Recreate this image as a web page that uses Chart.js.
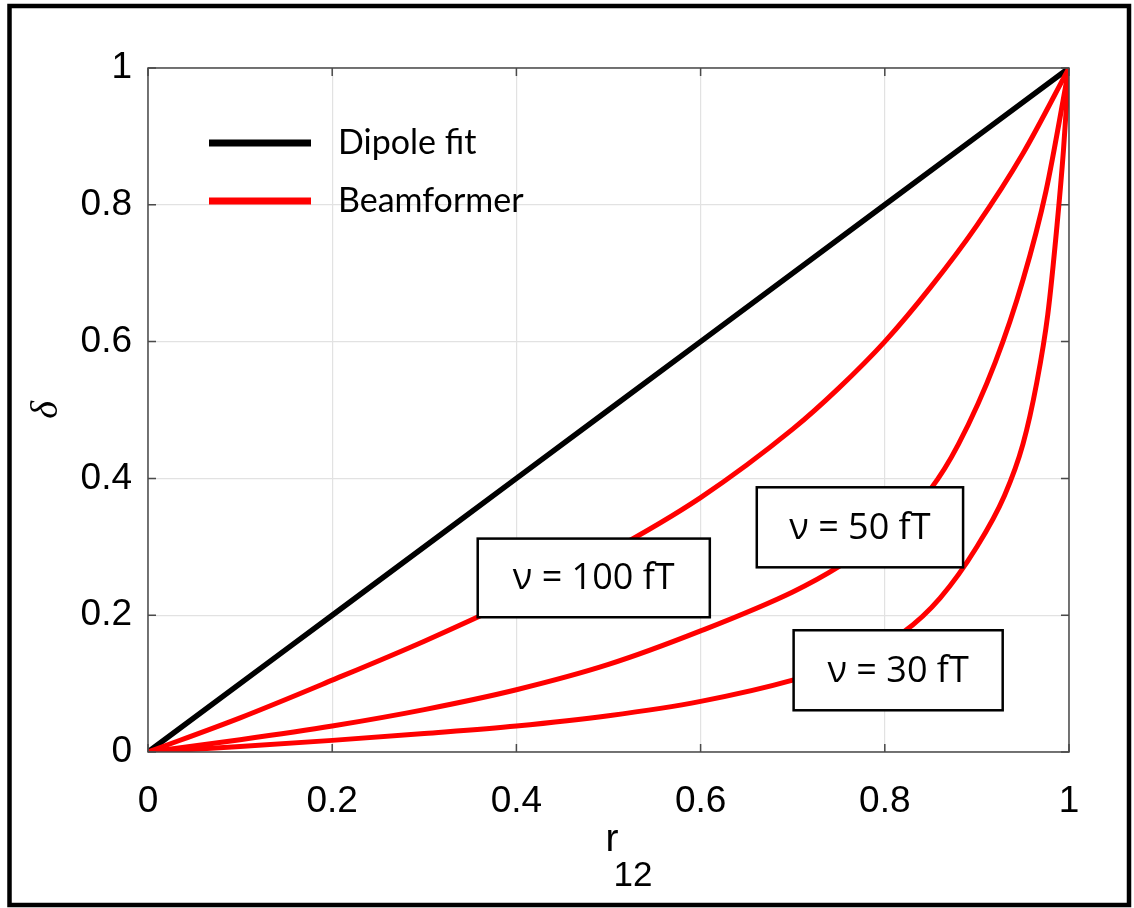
<!DOCTYPE html>
<html>
<head>
<meta charset="utf-8">
<script src="https://cdn.jsdelivr.net/npm/chart.js@4.4.1/dist/chart.umd.min.js"></script>
<style>
  html, body { margin: 0; padding: 0; background: #fff; }
  #wrap { width: 1134px; height: 908px; }
</style>
</head>
<body>
<div id="wrap"><canvas id="chart" width="1134" height="908"></canvas></div>
<script>
// values (x = r12, y = delta)
const rDipole = [0, 0.2, 0.4, 0.6, 0.8, 1];
const dDipole = [0, 0.2, 0.4, 0.6, 0.8, 1];

const r100 = [0, 0.1, 0.2, 0.3, 0.4, 0.5, 0.6, 0.7, 0.75, 0.8, 0.85, 0.9, 0.95, 1];
const d100 = [0, 0.05, 0.105, 0.162, 0.224, 0.292, 0.372, 0.472, 0.532, 0.6, 0.68, 0.77, 0.875, 1];

const r50 = [0, 0.1, 0.2, 0.3, 0.4, 0.5, 0.6, 0.7, 0.75, 0.8, 0.85, 0.88, 0.92, 0.95, 0.975, 1];
const d50 = [0, 0.018, 0.038, 0.062, 0.091, 0.128, 0.177, 0.234, 0.271, 0.318, 0.385, 0.45, 0.57, 0.69, 0.82, 1];

const r30 = [0, 0.1, 0.2, 0.3, 0.4, 0.5, 0.6, 0.7, 0.76, 0.82, 0.86, 0.9, 0.93, 0.95, 0.965, 0.977, 0.987, 0.994, 1];
const d30 = [0, 0.008, 0.017, 0.027, 0.038, 0.053, 0.074, 0.105, 0.132, 0.175, 0.225, 0.3, 0.375, 0.45, 0.54, 0.64, 0.77, 0.88, 1];

const xTicks = [0, 0.2, 0.4, 0.6, 0.8, 1];
const seriesNames = ["Dipole fit", "Beamformer"];
const noteLabels = ["ν = 100 fT", "ν = 50 fT", "ν = 30 fT"];

function pts(xs, ys) {
    return xs.map((v, i) => ({x: v, y: ys[i]}));
}

// text boxes, in data units
const noteBoxes = [
    {x0: 0.358, x1: 0.610, y0: 0.197, y1: 0.312},
    {x0: 0.661, x1: 0.885, y0: 0.270, y1: 0.387},
    {x0: 0.701, x1: 0.928, y0: 0.061, y1: 0.178}
];

const decorPlugin = {
    id: 'decor',
    afterDatasetsDraw(chart) {
        const {ctx, chartArea: a, scales: {x, y}} = chart;
        ctx.save();

        // plot box
        ctx.strokeStyle = '#4a4a4a';
        ctx.lineWidth = 1.5;
        ctx.strokeRect(a.left, a.top, a.right - a.left, a.bottom - a.top);

        // inward tick marks on all four sides
        ctx.beginPath();
        xTicks.forEach(t => {
            const px = x.getPixelForValue(t);
            ctx.moveTo(px, a.bottom); ctx.lineTo(px, a.bottom - 8);
            ctx.moveTo(px, a.top); ctx.lineTo(px, a.top + 8);
            const py = y.getPixelForValue(t);
            ctx.moveTo(a.left, py); ctx.lineTo(a.left + 8, py);
            ctx.moveTo(a.right, py); ctx.lineTo(a.right - 8, py);
        });
        ctx.stroke();

        // legend
        const legendColors = ['#000000', '#ff0000'];
        ctx.font = '34px Lato';
        ctx.textBaseline = 'middle';
        ctx.textAlign = 'left';
        seriesNames.forEach((name, i) => {
            const ly = a.top + 75 + i * 58;
            ctx.strokeStyle = legendColors[i];
            ctx.lineWidth = 7;
            ctx.beginPath();
            ctx.moveTo(a.left + 61, ly);
            ctx.lineTo(a.left + 163, ly);
            ctx.stroke();
            ctx.fillStyle = '#000';
            ctx.fillText(name, a.left + 190, ly);
        });

        // labelled boxes over the curves
        ctx.font = '36px "Open Sans"';
        ctx.textAlign = 'center';
        noteBoxes.forEach((b, i) => {
            const l = x.getPixelForValue(b.x0), r = x.getPixelForValue(b.x1);
            const t = y.getPixelForValue(b.y1), btm = y.getPixelForValue(b.y0);
            ctx.fillStyle = '#fff';
            ctx.fillRect(l, t, r - l, btm - t);
            ctx.strokeStyle = '#000';
            ctx.lineWidth = 2.5;
            ctx.strokeRect(l, t, r - l, btm - t);
            ctx.fillStyle = '#000';
            ctx.fillText(noteLabels[i], (l + r) / 2, (t + btm) / 2 + 1);
        });

        // x axis title r_12
        const cx = (a.left + a.right) / 2;
        ctx.textAlign = 'left';
        ctx.textBaseline = 'alphabetic';
        ctx.font = '39px "Liberation Sans"';
        ctx.fillText('r', cx - 3, 851);
        ctx.font = '35px "Liberation Sans"';
        ctx.fillText('12', cx + 5, 886);

        // outer frame of the figure
        ctx.strokeStyle = '#000';
        ctx.lineWidth = 4.5;
        ctx.strokeRect(9.5, 6, 1119.5, 899);
        ctx.restore();
    }
};

const ctx = document.getElementById('chart').getContext('2d');
new Chart(ctx, {
    type: 'line',
    data: {
        datasets: [
            {label: seriesNames[0], data: pts(rDipole, dDipole), borderColor: '#000000', borderWidth: 5.5, order: 4},
            {label: seriesNames[1], data: pts(r100, d100), borderColor: '#ff0000', borderWidth: 5, order: 1},
            {label: seriesNames[1], data: pts(r50, d50), borderColor: '#ff0000', borderWidth: 5, order: 2},
            {label: seriesNames[1], data: pts(r30, d30), borderColor: '#ff0000', borderWidth: 5, order: 3}
        ]
    },
    options: {
        responsive: false,
        animation: false,
        elements: {
            point: {radius: 0},
            line: {cubicInterpolationMode: 'monotone', fill: false, borderCapStyle: 'round'}
        },
        layout: {padding: {left: 0, top: 68, right: 65, bottom: 0}},
        plugins: {
            legend: {display: false},
            tooltip: {enabled: false}
        },
        scales: {
            x: {
                type: 'linear',
                min: 0, max: 1,
                afterFit: s => { s.height = 156; },
                afterBuildTicks: s => { s.ticks = xTicks.map(v => ({value: v})); },
                grid: {color: '#e2e2e2', lineWidth: 1.2, drawTicks: false},
                border: {display: false},
                ticks: {
                    padding: 28,
                    color: '#000',
                    font: {family: 'Liberation Sans', size: 37},
                    callback: v => String(Number(v.toFixed(1)))
                }
            },
            y: {
                type: 'linear',
                min: 0, max: 1,
                afterFit: s => { s.width = 148; },
                afterBuildTicks: s => { s.ticks = xTicks.map(v => ({value: v})); },
                grid: {color: '#e2e2e2', lineWidth: 1.2, drawTicks: false},
                border: {display: false},
                ticks: {
                    padding: 16,
                    color: '#000',
                    font: {family: 'Liberation Sans', size: 37},
                    callback: v => String(Number(v.toFixed(1)))
                },
                title: {
                    display: true,
                    text: 'δ',
                    color: '#000',
                    font: {family: 'Liberation Serif', style: 'italic', size: 38},
                    padding: {top: 24, bottom: 0}
                }
            }
        }
    },
    plugins: [decorPlugin]
});
</script>
</body>
</html>
